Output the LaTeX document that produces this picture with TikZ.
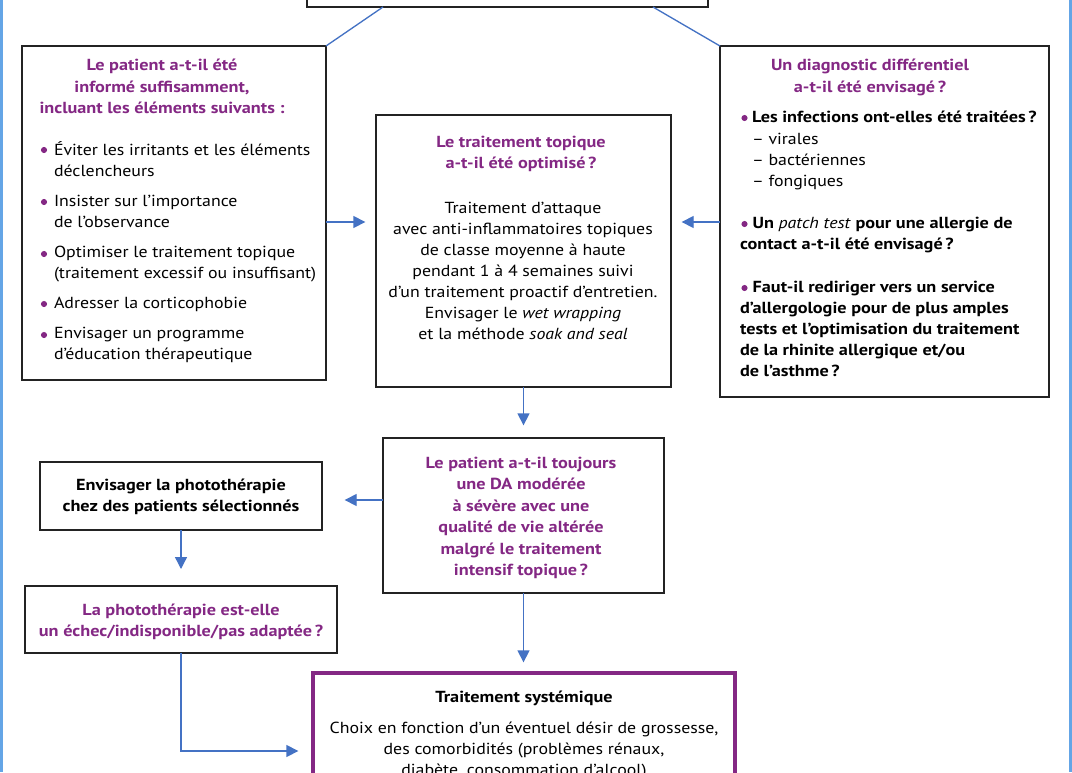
\documentclass[tikz,border=0pt]{standalone}
\usepackage{fontspec}
\setmainfont{PT Sans}[FakeStretch=1.115,BoldFeatures={FakeStretch=1.14},BoldItalicFeatures={FakeStretch=1.14}]
\usetikzlibrary{arrows.meta,calc}
\definecolor{pur}{RGB}{132,40,132}
\definecolor{arrblue}{RGB}{68,114,196}
\definecolor{sideblue}{RGB}{100,165,230}
\definecolor{boxgray}{RGB}{35,35,35}
\begin{document}
\begin{tikzpicture}[x=0.75pt,y=-0.75pt,
  box/.style={draw=boxgray,line width=1.2pt,inner sep=0pt,outer sep=0pt,anchor=north west,fill=white},
  sz/.style 2 args={minimum width=#1*0.75pt,minimum height=#2*0.75pt},
  txt/.style={inner sep=0pt,outer sep=0pt,text=black,font=\fontsize{12}{15.75}\selectfont},
  btxt/.style={inner sep=0pt,outer sep=0pt,text=black,font=\fontsize{12}{15.75}\selectfont\bfseries},
  ttl/.style={inner sep=0pt,outer sep=0pt,text=pur,font=\fontsize{12}{16}\selectfont\bfseries},
  arr/.style={draw=arrblue,line width=1pt,-{Triangle[length=9pt,width=9pt]}},
  conn/.style={draw=arrblue,line width=1pt},
  dot/.style={fill=pur}]
\useasboundingbox (0,0) rectangle (1072,772);
\clip (0,0) rectangle (1072,772);
\fill[white] (0,0) rectangle (1072,772);
\fill[sideblue] (0,0) rectangle (2.7,772);
\fill[sideblue] (1069,0) rectangle (1072,772);

% boxes
\node[box,sz={401}{47}] (top) at (307,-40) {};
\node[box,sz={304}{334}] (L) at (22,46) {};
\node[box,sz={295}{272}] (C) at (376,115) {};
\node[box,sz={329}{351}] (R) at (720,46) {};
\node[box,sz={281}{155}] (M) at (383,438) {};
\node[box,sz={282}{68}] (P1) at (40,462) {};
\node[box,sz={312}{67}] (P2) at (25,586) {};
\node[box,draw=pur,line width=2.6pt,sz={422}{200}] (S) at (313,673) {};

% connectors
\draw[conn] ($(top.south west)+(76,0)$) -- (L.north east);
\draw[conn] ($(top.south west)+(346,0)$) -- (R.north west);
\coordinate (h1) at (0,222);
\coordinate (h2) at (0,500);
\coordinate (h3) at (0,751);
\draw[arr,shorten >=8pt] (L.east |- h1) -- (C.west |- h1);
\draw[arr,shorten >=8pt] (R.west |- h1) -- (C.east |- h1);
\draw[arr,shorten >=9.5pt] (C.south) -- (M.north);
\draw[arr,shorten >=17pt] (M.west |- h2) -- (P1.east |- h2);
\draw[arr,shorten >=12.75pt] (P1.south) -- (P2.north);
\draw[arr,shorten >=11pt] (P2.south) |- (S.west |- h3);
\draw[arr,shorten >=8pt] (M.south) -- (S.north -| M.south);

% left box (anchor base = baseline of last line)
\node[ttl,align=center,anchor=base,font=\fontsize{12}{16.1}\selectfont\bfseries] (Lt) at (162,113.5) {Le patient a-t-il été\\informé suffisamment,\\incluant les éléments suivants~:};
\node[txt,align=left,anchor=base west] (L1) at (54,176.5) {Éviter les irritants et les éléments\\déclencheurs};
\node[txt,align=left,anchor=base west] (L2) at (54,227.5) {Insister sur l’importance\\de l’observance};
\node[txt,align=left,anchor=base west] (L3) at (54,278.5) {Optimiser le traitement topique\\(traitement excessif ou insuffisant)};
\node[txt,align=left,anchor=base west] (L4) at (54,308.5) {Adresser la corticophobie};
\node[txt,align=left,anchor=base west] (L5) at (54,359.5) {Envisager un programme\\d’éducation thérapeutique};
\foreach \yy in {150,202,254,304,335} \fill[dot] (44,\yy) circle[radius=2.3pt];

% center box
\node[ttl,align=center,anchor=base] (Ct) at (521,168.5) {Le traitement topique\\a-t-il été optimisé\,?};
\node[txt,align=center,anchor=base] (Cb) at (523,339.5) {Traitement d’attaque\\avec anti-inflammatoires topiques\\de classe moyenne à haute\\pendant 1 à 4 semaines suivi\\d’un traitement proactif d’entretien.\\Envisager le \textit{wet wrapping}\\et la méthode \textit{soak and seal}};

% right box
\node[ttl,align=center,anchor=base,font=\fontsize{12}{16.5}\selectfont\bfseries] (Rt) at (870,92.5) {Un diagnostic différentiel\\a-t-il été envisagé\,?};
\node[btxt,anchor=base west] (R1) at (752,122.5) {Les infections ont-elles été traitées\,?};
\node[txt,align=left,anchor=base west] (R1b) at (752,186.5) {– virales\\– bactériennes\\– fongiques};
\node[btxt,align=left,anchor=base west] (R2) at (740,249.5) {\hspace*{9.5pt}Un \textit{\mdseries patch test} pour une allergie de\\contact a-t-il été envisagé\,?};
\node[btxt,align=left,anchor=base west] (R3) at (740,376.5) {\hspace*{9.5pt}Faut-il rediriger vers un service\\d’allergologie pour de plus amples\\tests et l’optimisation du traitement\\de la rhinite allergique et/ou\\de l’asthme\,?};
\foreach \yy in {118,224,288} \fill[dot] (744.5,\yy) circle[radius=2.3pt];

% middle box
\node[ttl,align=center,anchor=base,font=\fontsize{12}{16.05}\selectfont\bfseries] (Mt) at (521,575.5) {Le patient a-t-il toujours\\une DA modérée\\à sévère avec une\\qualité de vie altérée\\malgré le traitement\\intensif topique\,?};

% phototherapy boxes
\node[btxt,align=center,anchor=base] (P1t) at (181,511.5) {Envisager la photothérapie\\chez des patients sélectionnés};
\node[ttl,align=center,anchor=base] (P2t) at (181,636.5) {La photothérapie est-elle\\un échec/indisponible/pas adaptée\,?};

% systemic box
\node[btxt,anchor=base] (St) at (524,702.5) {Traitement systémique};
\node[txt,align=center,anchor=base] (Sb) at (524,775.5) {Choix en fonction d’un éventuel désir de grossesse,\\des comorbidités (problèmes rénaux,\\diabète, consommation d’alcool)};
\end{tikzpicture}
\end{document}
